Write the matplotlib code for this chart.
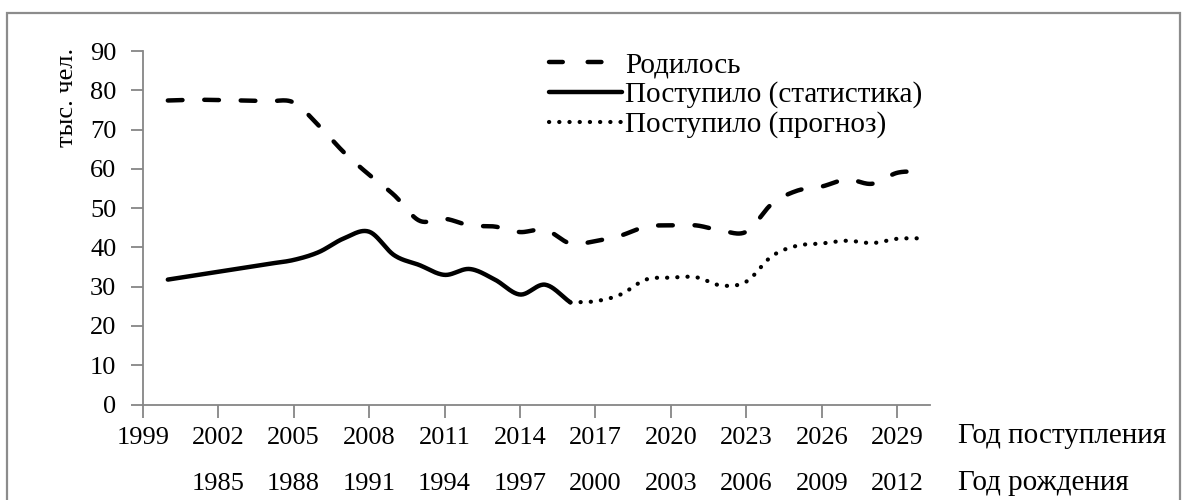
import numpy as np
import matplotlib
matplotlib.use("Agg")
from matplotlib import pyplot as plt
from matplotlib.patches import Rectangle
from matplotlib.lines import Line2D

plt.rcParams['font.family'] = ['Liberation Serif', 'DejaVu Serif']

# data (thousand people)
years = list(range(2000, 2031))
born = [77.4, 77.6, 77.5, 77.4, 77.2, 76.9, 71.0, 64.2, 58.5, 53.3, 46.8,
        47.3, 45.6, 45.3, 43.9, 44.5, 41.0, 41.6, 43.0, 45.3, 45.6, 45.6,
        44.3, 44.0, 51.0, 54.4, 55.5, 57.3, 56.2, 59.0, 59.3]
stat_years = list(range(2000, 2017))
stat = [31.8, 32.8, 33.8, 34.8, 35.8, 36.8, 38.8, 42.3, 44.0, 38.0, 35.5,
        33.0, 34.5, 31.8, 28.0, 30.5, 26.0]
fc_years = list(range(2016, 2031))
forecast = [26.0, 26.3, 28.0, 31.8, 32.3, 32.4, 30.3, 31.3, 37.7, 40.4,
            41.0, 41.7, 41.1, 42.2, 42.3]

adm_ticks = list(range(1999, 2030, 3))
birth_ticks = list(range(2002, 2030, 3))
birth_labels = ['1985', '1988', '1991', '1994', '1997', '2000', '2003',
                '2006', '2009', '2012']
series_names = ['Родилось', 'Поступило (статистика)', 'Поступило (прогноз)']


def smooth(x, y, n=24):
    # Catmull-Rom spline through the points (like Excel "smoothed line")
    x = np.asarray(x, float)
    y = np.asarray(y, float)
    px = np.concatenate([[2 * x[0] - x[1]], x, [2 * x[-1] - x[-2]]])
    py = np.concatenate([[2 * y[0] - y[1]], y, [2 * y[-1] - y[-2]]])
    t = np.linspace(0, 1, n, endpoint=False)
    xs, ys = [], []
    for i in range(1, len(px) - 2):
        for p, out in ((px, xs), (py, ys)):
            p0, p1, p2, p3 = p[i - 1], p[i], p[i + 1], p[i + 2]
            out.extend(0.5 * (2 * p1 + (-p0 + p2) * t
                              + (2 * p0 - 5 * p1 + 4 * p2 - p3) * t ** 2
                              + (-p0 + 3 * p1 - 3 * p2 + p3) * t ** 3))
    xs.append(x[-1])
    ys.append(y[-1])
    return np.array(xs), np.array(ys)


fig = plt.figure(figsize=(11.84, 5.0), dpi=100)
ax = fig.add_axes([0.1205, 0.191, 0.665, 0.707])

lw = 3.2
sx, sy = smooth(years, born)
l1, = ax.plot(sx, sy, color='black', lw=lw, dashes=(3.3, 4.9),
              dash_capstyle='round', solid_capstyle='round')
sx, sy = smooth(stat_years, stat)
l2, = ax.plot(sx, sy, color='black', lw=lw, solid_capstyle='round')
sx, sy = smooth(fc_years, forecast)
l3, = ax.plot(sx, sy, color='black', lw=3.0, dashes=(0.05, 2.4),
              dash_capstyle='round')

ax.set_xlim(1999, 2030.3)
ax.set_ylim(0, 90)
ax.set_yticks(range(0, 91, 10))
ax.set_xticks(adm_ticks)
for s in ['top', 'right']:
    ax.spines[s].set_visible(False)
for s in ['left', 'bottom']:
    ax.spines[s].set_color('#868686')
    ax.spines[s].set_linewidth(1.3)
ax.tick_params(axis='both', direction='out', length=9, width=1.3,
               color='#868686', labelsize=19)
ax.tick_params(axis='y', pad=10)
ax.tick_params(axis='x', pad=7)

# second row: birth year
for xt, lab in zip(birth_ticks, birth_labels):
    ax.text(xt, -0.225, lab, transform=ax.get_xaxis_transform(),
            ha='center', va='center', fontsize=19)

fig.text(958 / 1184, 1 - 436 / 500, 'Год поступления', fontsize=21,
         ha='left', va='center')
fig.text(958 / 1184, 1 - 483 / 500, 'Год рождения', fontsize=21,
         ha='left', va='center')
fig.text(67 / 1184, 1 - 48 / 500, 'тыс. чел.', fontsize=19, rotation=90,
         ha='center', va='top')

h1 = Line2D([], [], color='black', lw=lw, dashes=(3.1, 5.6),
            dash_capstyle='round')
h3 = Line2D([], [], color='black', lw=3.0, dashes=(0.05, 2.4),
            dash_capstyle='round')
ax.legend([h1, l2, h3], series_names, loc='upper left',
          bbox_to_anchor=(549 / 1184, 1 - 52 / 500),
          bbox_transform=fig.transFigure, frameon=False, fontsize=21,
          handlelength=2.5, handletextpad=0.1, labelspacing=0.1,
          borderpad=0, borderaxespad=0)

fig.add_artist(Rectangle((7 / 1184, -0.02), 1173 / 1184, 1.02 - 13 / 500,
                         transform=fig.transFigure, fill=False,
                         edgecolor='#8c8c8c', lw=1.6))

fig.savefig('out.png', dpi=100)
